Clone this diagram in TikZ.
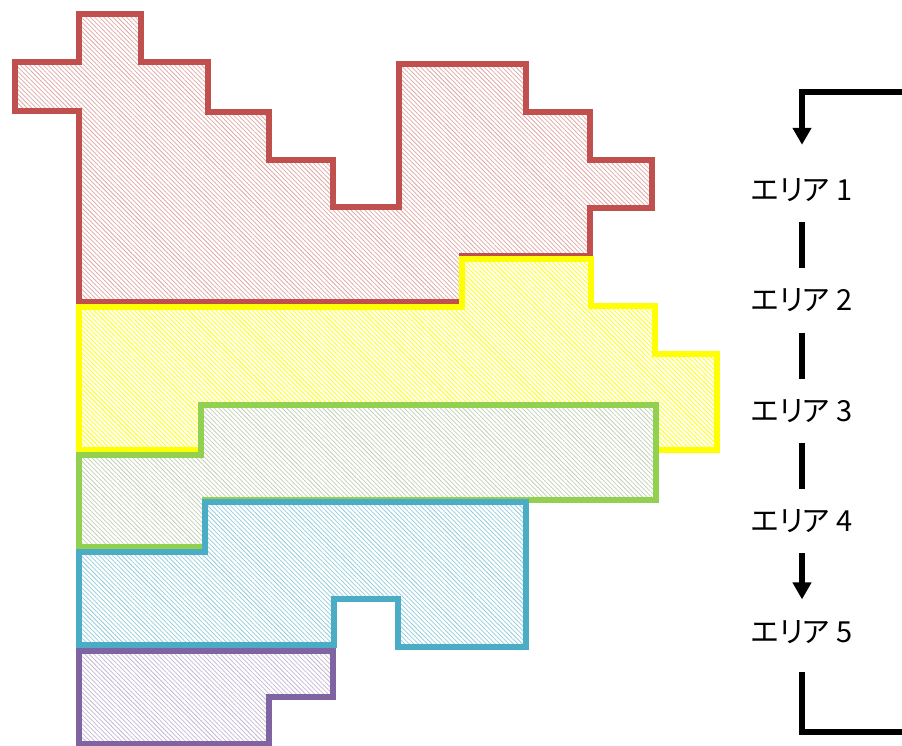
\documentclass[tikz,border=0pt]{standalone}
\usepackage{fontspec}
\newfontfamily\jpfont[RawFeature=+palt]{Noto Sans CJK JP}
\usetikzlibrary{arrows.meta,patterns.meta,positioning}
\definecolor{edgeA}{HTML}{C0504D}
\definecolor{edgeB}{HTML}{FFFF00}
\definecolor{edgeC}{HTML}{92D050}
\definecolor{edgeD}{HTML}{4BACC6}
\definecolor{edgeE}{HTML}{8064A2}

\begin{document}
\begin{tikzpicture}[x=1pt, y=-1pt,
    region/.style 2 args={draw=#1, line width=5.5pt, preaction={fill=white},
      pattern={Lines[angle=-45, distance=3.2pt, line width=0.75pt]}, pattern color=#2},
    label/.style={font=\jpfont\fontsize{29}{32}\selectfont, minimum height=64pt, inner sep=0pt},
    link/.style={line width=5.5pt},
    arr/.style={link, -{Triangle[width=18pt, length=17pt]}},
    node distance=46pt]
  \useasboundingbox (0,0) rectangle (902,746);
  % Area 1 (red)
  \draw[region={edgeA}{edgeA!50}] (79,14) -- (141,14) -- (141,62) -- (208,62) -- (208,112)
    -- (269,112) -- (269,160) -- (333,160) -- (333,207) -- (399,207) -- (399,64)
    -- (526,64) -- (526,112) -- (590,112) -- (590,160) -- (652,160) -- (652,208)
    -- (590,208) -- (590,256) -- (462,256) -- (462,302) -- (79,302) -- (79,111)
    -- (15,111) -- (15,62) -- (79,62) -- cycle;
  % Area 2 (yellow)
  \draw[region={edgeB}{edgeB}] (79,307) -- (462,307) -- (462,259) -- (591,259) -- (591,306)
    -- (655,306) -- (655,354) -- (717,354) -- (717,450) -- (79,450) -- cycle;
  % Area 3 (green)
  \draw[region={edgeC}{edgeC!40!gray!50}] (201,405) -- (656,405) -- (656,500) -- (205,500)
    -- (205,547) -- (79,547) -- (79,455) -- (201,455) -- cycle;
  % Area 4 (blue)
  \draw[region={edgeD}{edgeD!60}] (205,502) -- (526,502) -- (526,647) -- (398,647) -- (398,599)
    -- (334,599) -- (334,645) -- (79,645) -- (79,552) -- (205,552) -- cycle;
  % Area 5 (purple)
  \draw[region={edgeE}{edgeE!45}] (79,651) -- (333,651) -- (333,697) -- (269,697) -- (269,744)
    -- (79,744) -- cycle;
  % Order of the areas
  \node[label] (area1) at (802,190) {エリア 1};
  \node[label, below=of area1] (area2) {エリア 2};
  \node[label, below=of area2] (area3) {エリア 3};
  \node[label, below=of area3] (area4) {エリア 4};
  \node[label, below=of area4] (area5) {エリア 5};
  \coordinate (loopin) at (902,92);
  \coordinate (loopout) at (902,732);
  \draw[arr, shorten >=13pt] (loopin) -| (area1);
  \draw[link] (area1) -- (area2);
  \draw[link] (area2) -- (area3);
  \draw[link] (area3) -- (area4);
  \draw[arr] (area4) -- (area5);
  \draw[link, shorten <=8pt] (area5) |- (loopout);
\end{tikzpicture}
\end{document}
